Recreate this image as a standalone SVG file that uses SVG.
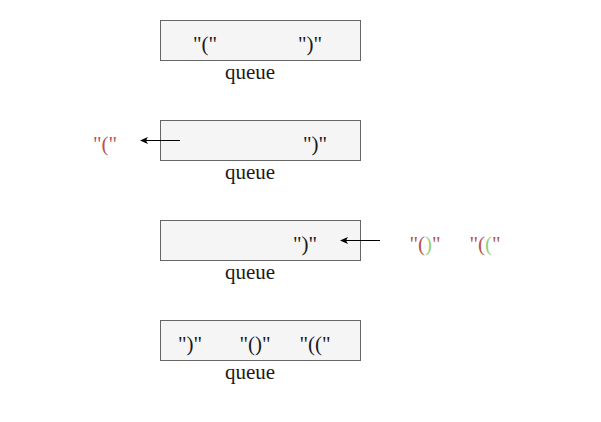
<svg xmlns="http://www.w3.org/2000/svg" width="601" height="422" viewBox="0 0 601 422">
<defs>
<style>
.box{fill:#f5f5f5;stroke:#666666;stroke-width:1}
.t{font-family:"Liberation Serif","DejaVu Serif",serif;font-size:21px;fill:#1a1a1a;text-anchor:middle}
.r{fill:#b85450}
.g{fill:#97d077}
.e{stroke:#000;stroke-width:1;fill:none}
</style>
</defs>
<rect width="601" height="422" fill="#fff"/>
<g id="q1">
<rect class="box" x="160.5" y="20.5" width="200" height="40"/>
<text class="t" x="205" y="51">"("</text>
<text class="t" x="310" y="51">")"</text>
<text class="t" x="250" y="79">queue</text>
</g>
<g id="q2">
<rect class="box" x="160.5" y="120.5" width="200" height="40"/>
<text class="t" x="315" y="151">")"</text>
<text class="t" x="250" y="179">queue</text>
</g>
<g id="out">
<text class="t r" x="105" y="151">"("</text>
</g>
<g id="q3">
<rect class="box" x="160.5" y="220.5" width="200" height="40"/>
<text class="t" x="305" y="251">")"</text>
<text class="t" x="250" y="279">queue</text>
</g>
<g id="in">
<text class="t" x="425" y="251"><tspan class="r">"(</tspan><tspan class="g">)</tspan><tspan class="r">"</tspan></text>
<text class="t" x="485" y="251"><tspan class="r">"(</tspan><tspan class="g">(</tspan><tspan class="r">"</tspan></text>
</g>
<g id="q4">
<rect class="box" x="160.5" y="320.5" width="200" height="40"/>
<text class="t" x="190" y="351">")"</text>
<text class="t" x="255" y="351">"()"</text>
<text class="t" x="315" y="351">"(("</text>
<text class="t" x="250" y="379">queue</text>
</g>
<g id="connectors">
<line class="e" x1="180" y1="140.5" x2="146" y2="140.5"/>
<path d="M140,140.5 L148,137 L146,140.5 L148,144 Z" fill="#000"/>
<line class="e" x1="380" y1="240.5" x2="346" y2="240.5"/>
<path d="M340,240.5 L348,237 L346,240.5 L348,244 Z" fill="#000"/>
</g>
</svg>
